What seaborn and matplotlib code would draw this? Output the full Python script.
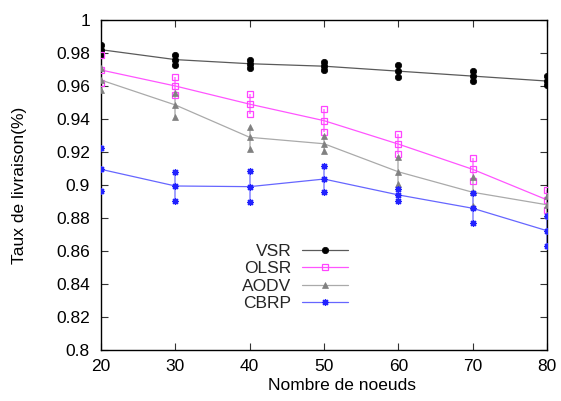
import matplotlib

matplotlib.use("Agg")
import matplotlib.pyplot as plt
import seaborn as sns

# Data (mean, lower and upper bounds)
nodes = [20, 30, 40, 50, 60, 70, 80]

vsr_mean = [0.982, 0.976, 0.9735, 0.972, 0.969, 0.966, 0.963]
vsr_low = [0.979, 0.973, 0.971, 0.9697, 0.9653, 0.9632, 0.9604]
vsr_high = [0.985, 0.979, 0.976, 0.9747, 0.9725, 0.969, 0.966]

olsr_mean = [0.9697, 0.960, 0.949, 0.939, 0.9248, 0.9095, 0.891]
olsr_low = [0.9616, 0.9547, 0.943, 0.932, 0.9186, 0.9024, 0.8848]
olsr_high = [0.9788, 0.9657, 0.9552, 0.946, 0.9309, 0.9166, 0.8968]

aodv_mean = [0.9636, 0.9485, 0.9289, 0.925, 0.908, 0.8956, 0.888]
aodv_low = [0.9576, 0.9414, 0.922, 0.9208, 0.9004, 0.8873, 0.882]
aodv_high = [0.9707, 0.9556, 0.9353, 0.930, 0.9168, 0.9047, 0.8935]

cbrp_mean = [0.9095, 0.8994, 0.899, 0.9036, 0.894, 0.8859, 0.8723]
cbrp_low = [0.8966, 0.8903, 0.8895, 0.8956, 0.8905, 0.877, 0.8632]
cbrp_high = [0.9226, 0.908, 0.9087, 0.9117, 0.8976, 0.895, 0.881]

protocols = ["VSR", "OLSR", "AODV", "CBRP"]

x_ticks = [20, 30, 40, 50, 60, 70, 80]
y_ticks = [0.8, 0.82, 0.84, 0.86, 0.88, 0.9, 0.92, 0.94, 0.96, 0.98, 1.0]
y_tick_labels = ["0.8", "0.82", "0.84", "0.86", "0.88", "0.9", "0.92",
                 "0.94", "0.96", "0.98", "1"]

series = {
    "VSR": (vsr_mean, vsr_low, vsr_high),
    "OLSR": (olsr_mean, olsr_low, olsr_high),
    "AODV": (aodv_mean, aodv_low, aodv_high),
    "CBRP": (cbrp_mean, cbrp_low, cbrp_high),
}

styles = {
    "VSR": dict(line="#5a5a5a", bar="#5a5a5a", marker="o", mfc="black",
                mec="black", ms=4.6, mew=0.5),
    "OLSR": dict(line="#ff55ff", bar="#ff88ff", marker="s", mfc="none",
                 mec="#ff44ff", ms=5.0, mew=0.9),
    "AODV": dict(line="#aaaaaa", bar="#c0c0c0", marker="^", mfc="#808080",
                 mec="#808080", ms=3.8, mew=0.5),
    "CBRP": dict(line="#6666ff", bar="#9999ff", marker=(8, 2, 0), mfc="#2222ff",
                 mec="#2222ff", ms=5.0, mew=0.9),
}

sns.set_theme(style="ticks")
plt.rcParams["font.family"] = ["Liberation Sans", "DejaVu Sans"]

fig = plt.figure(figsize=(5.61, 4.01), dpi=100)
ax = fig.add_axes([101 / 561, 51 / 401, 446 / 561, 330 / 401])

for name in protocols:
    mean, low, high = series[name]
    st = styles[name]
    ax.vlines(nodes, low, high, colors=st["bar"], lw=1.3, zorder=2)
    marker_kw = dict(marker=st["marker"], markerfacecolor=st["mfc"],
                     markeredgecolor=st["mec"], markersize=st["ms"],
                     markeredgewidth=st["mew"])
    sns.lineplot(x=nodes, y=mean, ax=ax, color=st["line"], lw=0.9,
                 label=name, zorder=3, **marker_kw)
    for bound in (low, high):
        sns.lineplot(x=nodes, y=bound, ax=ax, linestyle="none", zorder=3,
                     legend=False, **marker_kw)

ax.set_xlim(20, 80)
ax.set_ylim(0.8, 1.0)
ax.set_xticks(x_ticks)
ax.set_yticks(y_ticks)
ax.set_yticklabels(y_tick_labels)

for side in ["left", "right", "top", "bottom"]:
    ax.spines[side].set_visible(True)
    ax.spines[side].set_color("black")
    ax.spines[side].set_linewidth(1.0)

ax.tick_params(axis="both", which="both", direction="in", length=5,
               width=0.8, color="#333333", top=True, right=True,
               labelsize=12.5, labelcolor="black")
ax.tick_params(axis="y", pad=8)
ax.tick_params(axis="x", pad=6.5)

ax.set_xlabel("Nombre de noeuds", fontsize=12.5, color="black")
ax.xaxis.set_label_coords((342 - 101) / 446, -(378 - 350) / 330)
ax.set_ylabel("Taux de livraison(%)", fontsize=12.5, color="black")
ax.yaxis.set_label_coords(-(101 - 27) / 446, 0.5)

leg = ax.legend(loc="upper right", bbox_to_anchor=((348 - 101) / 446,
                (350 - 244) / 330), frameon=False, markerfirst=False,
                fontsize=12.5, handlelength=2.65, handletextpad=0.6,
                labelspacing=0.12, borderpad=0, borderaxespad=0)

plt.savefig("out.png", dpi=100)
